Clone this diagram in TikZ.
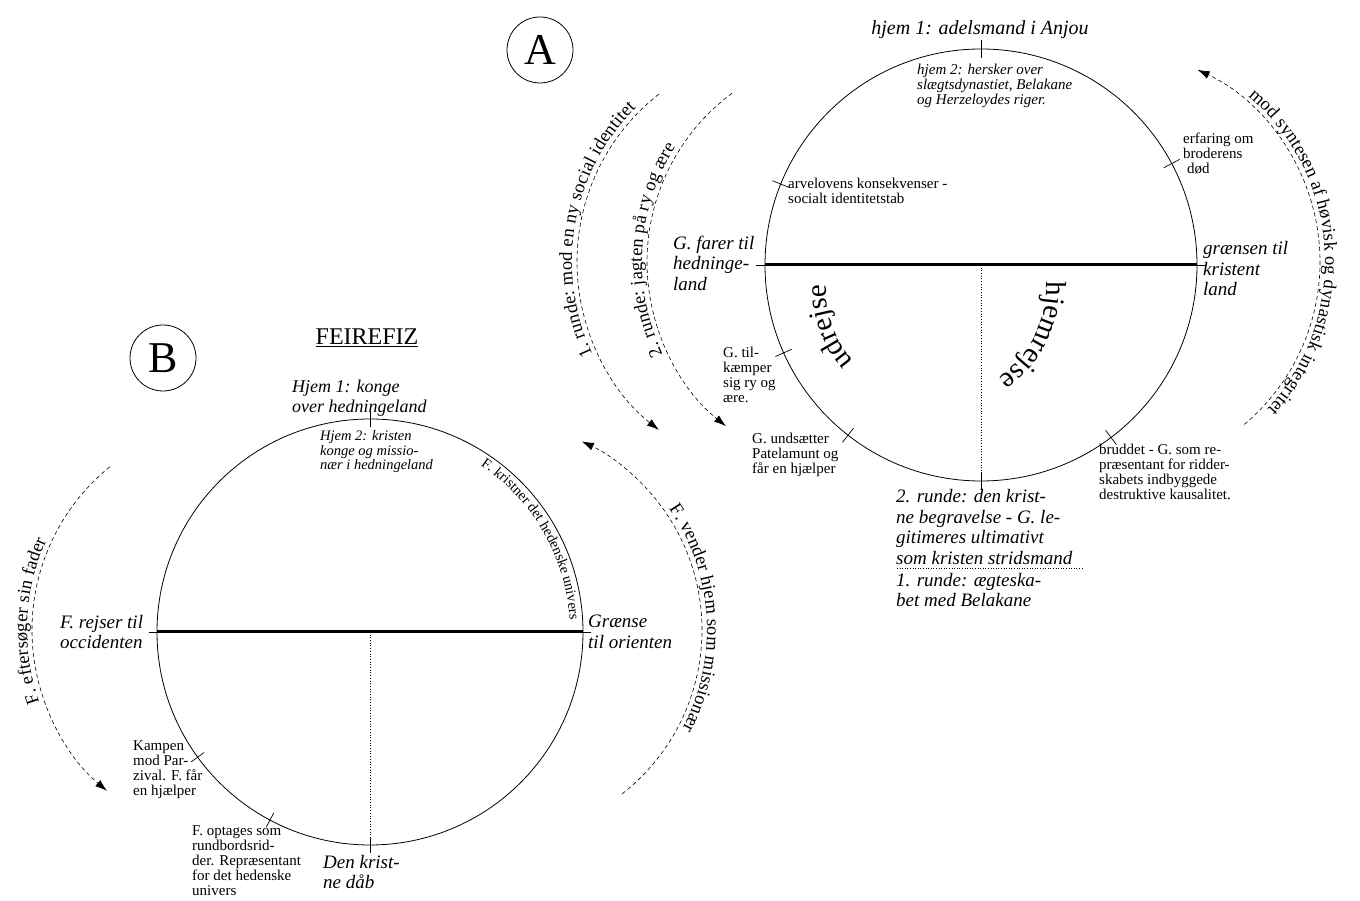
\documentclass[tikz,border=0pt]{standalone}
\usepackage{fontspec}
\setmainfont{Liberation Serif}
\usetikzlibrary{arrows.meta,calc,decorations.text}

\tikzset{
  note/.style={anchor=west, align=left, inner sep=0pt, font=\fontsize{15}{15}\selectfont},
  inote/.style={anchor=west, align=left, inner sep=0pt, font=\fontsize{15}{15}\selectfont\itshape},
  lab/.style={anchor=west, align=left, inner sep=0pt, font=\fontsize{19}{20.5}\selectfont\itshape},
  journey/.style={line width=0.6pt, dash pattern=on 4pt off 3pt, -{Latex[length=12pt,width=8pt]}},
  arctext/.style={decorate, decoration={text along path, text align=center, raise=5pt}},
  wheel/.style={line width=0.8pt},
  tick/.style={line width=0.7pt},
  letterbox/.style={circle, draw, line width=0.8pt, minimum size=66pt, inner sep=0pt, font=\fontsize{44}{44}\selectfont}
}

\begin{document}
\begin{tikzpicture}[x=1pt,y=1pt]
  \useasboundingbox (0,0) rectangle (1360,901);

  % Centres
  \coordinate (cA) at (981,636);
  \coordinate (cB) at (370,269);
  \coordinate (cTrip) at (936,613);

  % Circle A
  \draw[wheel] (cA) circle[radius=216];
  \coordinate (aW) at ($(cA)+(180:216)$);
  \coordinate (aE) at ($(cA)+(0:216)$);
  \coordinate (aS) at ($(cA)+(270:216)$);
  \draw[line width=3pt] (aW) -- (aE);
  \draw[dotted, line width=0.7pt] (cA) -- (aS);
  \foreach \a in {0,28,90,158,180,204,232,270,307}
    \draw[tick] ($(cA)+(\a:207)$) -- ($(cA)+(\a:225)$);

  % Circle B
  \draw[wheel] (cB) circle[radius=213];
  \coordinate (bW) at ($(cB)+(180:213)$);
  \coordinate (bE) at ($(cB)+(0:213)$);
  \coordinate (bS) at ($(cB)+(270:213)$);
  \draw[line width=3pt] (bW) -- (bE);
  \draw[dotted, line width=0.7pt] (cB) -- (bS);
  \foreach \a in {0,90,180,216,242,270}
    \draw[tick] ($(cB)+(\a:205)$) -- ($(cB)+(\a:221)$);

  % Letters
  \node[letterbox] (markA) at (540,851) {A};
  \node[letterbox] (markB) at (163,543) {B};
  \node[font=\fontsize{24}{24}\selectfont] (feirefiz) at (367,563) {\underline{FEIREFIZ}};

  % Labels round circle A
  \node[font=\fontsize{20}{20}\selectfont\itshape] (home1) at (980,871) {hjem 1: adelsmand i Anjou};
  \node[inote] (home2) at (917,815) {hjem 2: hersker over\\slægtsdynastiet, Belakane\\og Herzeloydes riger.};
  \node[note] (arv) at (788,710) {arvelovens konsekvenser -\\socialt identitetstab};
  \node[note] (brother) at (1183,747) {erfaring om\\broderens\\\hspace{4pt}død};
  \node[lab] (heathen) at (673,638) {G. farer til\\hedninge-\\land};
  \node[lab] (border) at (1203,632) {grænsen til\\kristent\\land};
  \node[note] (fame) at (723,526) {G. til-\\kæmper\\sig ry og\\ære.};
  \node[note] (patel) at (752,446) {G. undsætter\\Patelamunt og\\får en hjælper};
  \node[lab] (burial) at (896,374) {2. runde: den krist-\\ne begravelse - G. le-\\gitimeres ultimativt\\som kristen stridsmand};
  \draw[dotted, line width=0.6pt] (897,333) -- (1083,333);
  \node[lab] (marriage) at (896,311) {1. runde: ægteska-\\bet med Belakane};
  \node[note] (breach) at (1099,429) {bruddet - G. som re-\\præsentant for ridder-\\skabets indbyggede\\destruktive kausalitet.};

  % Words inside circle A
  \path[arctext, decoration={text={|\fontsize{29}{29}\selectfont|udrejse}, raise=0pt}]
    ($(cTrip)+(250:110)$) arc[start angle=250, end angle=150, radius=110];
  \path[arctext, decoration={text={|\fontsize{29}{29}\selectfont|hjemrejse}, raise=0pt}]
    ($(cTrip)+(25:110)$) arc[start angle=25, end angle=-77, radius=110];

  % Journeys round circle A
  \coordinate (aL1) at (790,639);
  \coordinate (aL2) at (857,639);
  \coordinate (aR) at (1108,639);
  \draw[journey] ($(aL1)+(128:213)$) arc[start angle=128, end angle=232, radius=213];
  \path[arctext, decoration={text={|\fontsize{18.5}{18.5}\selectfont|1. runde: mod en ny social identitet}}]
    ($(aL1)+(235:213)$) arc[start angle=235, end angle=105, radius=213];
  \draw[journey] ($(aL2)+(126.5:210)$) arc[start angle=126.5, end angle=231.4, radius=210];
  \path[arctext, decoration={text={|\fontsize{18.5}{18.5}\selectfont|2. runde: jagten på ry og ære}}]
    ($(aL2)+(235:210)$) arc[start angle=235, end angle=118, radius=210];
  \draw[journey] ($(aR)+(-50:212)$) arc[start angle=-50, end angle=65, radius=212];
  \path[arctext, decoration={text={|\fontsize{18.5}{18.5}\selectfont|mod syntesen af høvisk og dynastisk integritet}}]
    ($(aR)+(75:212)$) arc[start angle=75, end angle=-68, radius=212];

  % Labels round circle B
  \node[lab, font=\fontsize{18}{20}\selectfont\itshape] (king) at (292,503) {Hjem 1: konge\\over hedningeland};
  \node[inote, font=\fontsize{14.5}{14.5}\selectfont\itshape] (missio) at (320,449) {Hjem 2: kristen\\konge og missio-\\nær i hedningeland};
  \node[lab] (west) at (60,269) {F. rejser til\\occidenten};
  \node[lab] (east) at (588,269) {Grænse\\til orienten};
  \node[note] (fight) at (133,131) {Kampen\\mod Par-\\zival. F. får\\en hjælper};
  \node[note] (round) at (192,40) {F. optages som\\rundbordsrid-\\der. Repræsentant\\for det hedenske\\univers};
  \node[lab] (baptism) at (323,29) {Den krist-\\ne dåb};
  \path[arctext, decoration={text={|\fontsize{14.5}{14.5}\selectfont|F. kristner det hedenske univers}, raise=0pt}]
    ($(cB)+(75:200)$) arc[start angle=75, end angle=-15, radius=200];

  % Journeys round circle B
  \coordinate (bL) at (242,271);
  \coordinate (bR) at (494,271);
  \draw[journey] ($(bL)+(129:210)$) arc[start angle=129, end angle=230, radius=210];
  \path[arctext, decoration={text={|\fontsize{18.5}{18.5}\selectfont|F. eftersøger sin fader}}]
    ($(bL)+(230:210)$) arc[start angle=230, end angle=125, radius=210];
  \draw[journey] ($(bR)+(-52:208)$) arc[start angle=-52, end angle=65, radius=208];
  \path[arctext, decoration={text={|\fontsize{18.5}{18.5}\selectfont|F. vender hjem som missionær}}]
    ($(bR)+(65:208)$) arc[start angle=65, end angle=-58, radius=208];
\end{tikzpicture}
\end{document}
